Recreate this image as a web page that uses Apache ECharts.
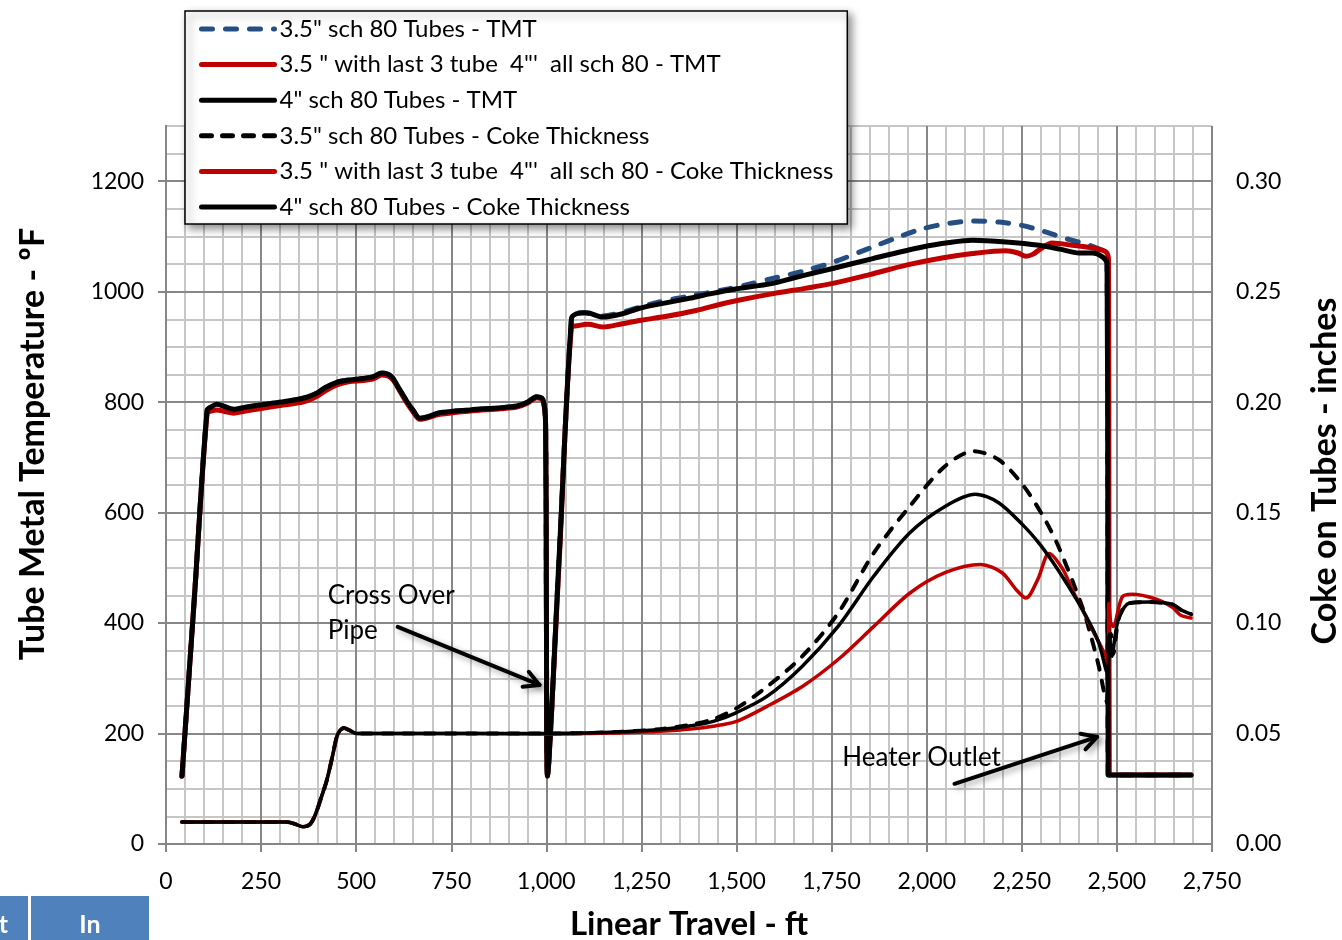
<!DOCTYPE html>
<html><head><meta charset="utf-8">
<script src="https://cdn.jsdelivr.net/npm/echarts@6/dist/echarts.min.js"></script>
<style>html,body{margin:0;padding:0;background:#fff}#c{width:1342px;height:940px}</style>
</head><body><div id="c"></div>
<script>
// ---------- data ----------
const seriesNames = [
  '3.5" sch 80 Tubes - TMT',
  '3.5 " with last 3 tube  4"\'  all sch 80 - TMT',
  '4" sch 80 Tubes - TMT',
  '3.5" sch 80 Tubes - Coke Thickness',
  '3.5 " with last 3 tube  4"\'  all sch 80 - Coke Thickness',
  '4" sch 80 Tubes - Coke Thickness'
];
const xTicks = [0,250,500,750,1000,1250,1500,1750,2000,2250,2500,2750];
const leftTicks = [0,200,400,600,800,1000,1200];
const rightTicks = [0,0.05,0.10,0.15,0.20,0.25,0.30];

// Tube metal temperature (deg F) vs linear travel (ft)
const tmt35 = [[42,123],[75,450],[108,785],[120,792],[133,796],[155,792],[177,787],[210,791],[247,795],[300,800],[360,807],[396,816],[420,827],[449,836],[480,840],[518,843],[545,846],[567,853],[585,850],[597,843],[615,822],[632,803],[650,785],[667,771],[690,774],[720,781],[800,786],[880,790],[922,793],[950,800],[975,810],[991,805],[998,760],[1000,450],[1003,123],[1035,540],[1066,952],[1079,960],[1100,962],[1114,961],[1148,956],[1200,963],[1245,972],[1300,982],[1376,992],[1464,1003],[1530,1013],[1595,1024],[1680,1038],[1753,1053],[1858,1081],[1930,1100],[1989,1114],[2060,1124],[2120,1128],[2191,1126],[2250,1120],[2304,1110],[2367,1096],[2419,1086],[2450,1078],[2466,1072],[2474,1055],[2476,600],[2477,125],[2600,125],[2695,125]];
const tmt35w4 = [[42,123],[75,450],[108,780],[120,784],[133,786],[155,783],[177,780],[210,784],[247,788],[300,794],[360,800],[396,810],[420,821],[449,831],[480,837],[518,839],[545,842],[567,849],[585,847],[597,840],[615,820],[632,800],[650,782],[667,769],[690,772],[720,778],[800,784],[880,788],[922,791],[950,798],[975,808],[991,803],[998,760],[1000,450],[1003,123],[1035,530],[1066,935],[1087,939],[1110,941],[1148,936],[1200,942],[1245,948],[1320,956],[1394,966],[1450,976],[1508,985],[1600,997],[1680,1006],[1753,1015],[1850,1031],[1946,1048],[2040,1061],[2120,1069],[2208,1074],[2240,1070],[2261,1064],[2280,1068],[2296,1076],[2330,1088],[2383,1084],[2445,1078],[2471,1072],[2478,1057],[2479,600],[2480,125],[2600,125],[2695,125]];
const tmt4 = [[42,123],[75,450],[108,785],[120,792],[133,796],[155,792],[177,787],[210,791],[247,795],[300,800],[360,807],[396,816],[420,827],[449,836],[480,840],[518,843],[545,846],[567,853],[585,850],[597,843],[615,822],[632,803],[650,785],[667,771],[690,774],[720,781],[800,786],[880,790],[922,793],[950,800],[975,810],[991,805],[998,760],[1000,450],[1003,123],[1035,540],[1066,952],[1079,960],[1100,962],[1114,961],[1148,954],[1200,960],[1245,970],[1300,978],[1376,988],[1430,996],[1490,1004],[1595,1015],[1680,1030],[1753,1042],[1858,1060],[1989,1081],[2060,1089],[2120,1093],[2208,1090],[2296,1084],[2350,1077],[2401,1070],[2435,1070],[2462,1063],[2474,1051],[2476,600],[2477,125],[2600,125],[2695,125]];

// Coke thickness (inches) vs linear travel (ft)
const coke35 = [[42,0.0100],[150,0.0100],[250,0.0100],[318,0.0100],[340,0.0090],[360,0.0078],[378,0.0088],[392,0.0130],[408,0.0210],[423,0.0290],[438,0.0400],[449,0.0485],[458,0.0515],[468,0.0525],[482,0.0515],[501,0.0500],[600,0.0500],[800,0.0500],[1000,0.0500],[1100,0.0502],[1200,0.0508],[1300,0.0520],[1380,0.0540],[1439,0.0565],[1500,0.0615],[1580,0.0712],[1673,0.0850],[1767,0.1045],[1861,0.1318],[1955,0.1528],[2048,0.1710],[2123,0.1778],[2189,0.1740],[2255,0.1620],[2311,0.1468],[2348,0.1340],[2409,0.1073],[2432,0.0940],[2453,0.0800],[2466,0.0690],[2474,0.0640],[2478,0.0900],[2484,0.0950],[2490,0.0860],[2506,0.1028],[2532,0.1090],[2585,0.1095],[2645,0.1085],[2668,0.1060],[2695,0.1040]];
const coke35w4 = [[42,0.0100],[150,0.0100],[250,0.0100],[318,0.0100],[340,0.0090],[360,0.0078],[378,0.0088],[392,0.0130],[408,0.0210],[423,0.0290],[438,0.0400],[449,0.0485],[458,0.0515],[468,0.0525],[482,0.0515],[501,0.0500],[600,0.0500],[800,0.0500],[1000,0.0498],[1100,0.0500],[1200,0.0503],[1300,0.0510],[1380,0.0520],[1439,0.0533],[1500,0.0555],[1580,0.0623],[1673,0.0713],[1767,0.0835],[1861,0.0985],[1955,0.1135],[2048,0.1228],[2142,0.1265],[2198,0.1228],[2236,0.1150],[2261,0.1113],[2292,0.1198],[2322,0.1315],[2358,0.1243],[2383,0.1150],[2405,0.1075],[2436,0.0968],[2471,0.0848],[2477,0.0800],[2479,0.1090],[2484,0.1000],[2490,0.0985],[2514,0.1118],[2540,0.1130],[2600,0.1110],[2645,0.1073],[2668,0.1035],[2695,0.1023]];
const coke4 = [[42,0.0100],[150,0.0100],[250,0.0100],[318,0.0100],[340,0.0090],[360,0.0078],[378,0.0088],[392,0.0130],[408,0.0210],[423,0.0290],[438,0.0400],[449,0.0485],[458,0.0515],[468,0.0525],[482,0.0515],[501,0.0500],[600,0.0500],[800,0.0500],[1000,0.0500],[1100,0.0502],[1200,0.0508],[1300,0.0518],[1380,0.0535],[1439,0.0555],[1500,0.0595],[1580,0.0668],[1673,0.0805],[1767,0.0985],[1861,0.1213],[1955,0.1408],[2048,0.1528],[2128,0.1583],[2189,0.1545],[2255,0.1440],[2296,0.1360],[2330,0.1280],[2366,0.1185],[2405,0.1075],[2430,0.0995],[2453,0.0908],[2475,0.0773],[2480,0.0950],[2487,0.0850],[2496,0.0950],[2506,0.1028],[2532,0.1090],[2585,0.1095],[2645,0.1085],[2668,0.1060],[2695,0.1040]];

// annotations in data units (ft, deg F)
const crossOverText = [425, 481];
const heaterText = [1778, 156];
const arrowCross = [[609, 393], [982, 288]];
const arrowOutlet = [[2073, 109], [2448, 194]];

// ---------- chart ----------
const FONT = 'Lato';
const MAJOR = '#878787', MINOR = '#c6c6c6', AXIS = '#868686';
const fmtThousands = v => String(v).replace(/\B(?=(\d{3})+(?!\d))/g, ',');
const hiddenParts = {axisLine: {show: false}, axisTick: {show: false}, axisLabel: {show: false}};

const chart = echarts.init(document.getElementById('c'), null, {renderer: 'canvas'});

function mk(name, data, color, width, dash, yIdx) {
  return {
    name, type: 'line', data, yAxisIndex: yIdx, symbol: 'none', smooth: 0.3, z: 3,
    lineStyle: {color, width, type: dash || 'solid', cap: 'round', join: 'round'},
    itemStyle: {color}, emphasis: {disabled: true}
  };
}

chart.setOption({
  animation: false,
  backgroundColor: '#fff',
  grid: {left: 166, top: 126, width: 1046, height: 718, containLabel: false, outerBoundsMode: 'none'},
  legend: {
    orient: 'vertical', left: 185, top: 11,
    itemWidth: 73, itemHeight: 14, itemGap: 9.6,
    padding: [5, 14, 4, 14],
    backgroundColor: '#fff', borderColor: '#000', borderWidth: 1.5, borderRadius: 0,
    shadowColor: 'rgba(0,0,0,0.45)', shadowBlur: 8, shadowOffsetX: 4, shadowOffsetY: 4,
    itemStyle: {opacity: 0},
    lineStyle: {width: 5},
    textStyle: {fontFamily: FONT, fontSize: 24, color: '#000', lineHeight: 26},
    data: seriesNames, selectedMode: false
  },
  xAxis: [
    {
      type: 'value', min: 0, max: 2750, interval: 50, z: 1,
      axisLine: {show: true, onZero: false, lineStyle: {color: AXIS, width: 2}},
      axisTick: {show: true, customValues: xTicks, length: 8, lineStyle: {color: AXIS, width: 2}},
      axisLabel: {customValues: xTicks, formatter: fmtThousands, fontFamily: FONT, fontSize: 23, color: '#000', margin: 26},
      splitLine: {show: true, lineStyle: {color: MAJOR, width: 2}},
      name: 'Linear Travel - ft', nameLocation: 'middle', nameGap: 64,
      nameTextStyle: {fontFamily: FONT, fontSize: 33, fontWeight: 'bold', color: '#000'}
    },
    Object.assign({
      type: 'value', min: 0, max: 2750, interval: 50, z: 0, position: 'bottom',
      splitLine: {show: true, lineStyle: {color: MINOR, width: 2}}
    }, hiddenParts)
  ],
  yAxis: [
    {
      type: 'value', min: 0, max: 1300, interval: 50, position: 'left', z: 1,
      axisLine: {show: true, lineStyle: {color: AXIS, width: 2}},
      axisTick: {show: true, customValues: leftTicks, length: 8, lineStyle: {color: AXIS, width: 2}},
      axisLabel: {customValues: leftTicks, formatter: v => String(v), fontFamily: FONT, fontSize: 23, color: '#000', margin: 22},
      splitLine: {show: true, lineStyle: {color: MAJOR, width: 2}}
    },
    {
      type: 'value', min: 0, max: 0.325, interval: 0.05, position: 'right', z: 1,
      axisLine: {show: true, lineStyle: {color: AXIS, width: 2}},
      axisTick: {show: true, customValues: rightTicks, length: 8, lineStyle: {color: AXIS, width: 2}},
      axisLabel: {customValues: rightTicks, formatter: v => v.toFixed(2), fontFamily: FONT, fontSize: 23, color: '#000', margin: 24},
      splitLine: {show: false}
    },
    Object.assign({
      type: 'value', min: 0, max: 1300, interval: 50, position: 'left', z: 0,
      splitLine: {show: true, lineStyle: {color: MINOR, width: 2}}
    }, hiddenParts)
  ],
  series: [
    mk(seriesNames[0], tmt35, '#254E83', 5, [11, 13], 0),
    mk(seriesNames[1], tmt35w4, '#C00000', 5, null, 0),
    mk(seriesNames[2], tmt4, '#000000', 5, null, 0),
    mk(seriesNames[3], coke35, '#000000', 4, [10, 11], 1),
    mk(seriesNames[4], coke35w4, '#C00000', 3.5, null, 1),
    mk(seriesNames[5], coke4, '#000000', 3.5, null, 1)
  ]
});

function px(p) { return chart.convertToPixel({xAxisIndex: 0, yAxisIndex: 0}, p); }
function arrow(a) {
  const s = px(a[0]), e = px(a[1]);
  const ang = Math.atan2(e[1] - s[1], e[0] - s[0]);
  const L = 17, spread = 0.5;
  const p1 = [e[0] - L * Math.cos(ang - spread), e[1] - L * Math.sin(ang - spread)];
  const p2 = [e[0] - L * Math.cos(ang + spread), e[1] - L * Math.sin(ang + spread)];
  const st = {stroke: '#000', lineWidth: 4, lineCap: 'round', lineJoin: 'round',
    shadowColor: 'rgba(0,0,0,0.35)', shadowBlur: 6, shadowOffsetX: 3, shadowOffsetY: 3};
  return [
    {type: 'line', shape: {x1: s[0], y1: s[1], x2: e[0], y2: e[1]}, style: st, z: 50},
    {type: 'polyline', shape: {points: [p1, e, p2]}, style: Object.assign({fill: null}, st), z: 50}
  ];
}
const ct = px(crossOverText), ht = px(heaterText);
chart.setOption({
  graphic: [
    {type: 'text', x: 33, y: 444, rotation: Math.PI / 2, z: 60,
     style: {text: 'Tube Metal Temperature - ºF', font: 'bold 34px ' + FONT, fill: '#000', textAlign: 'center', textVerticalAlign: 'middle'}},
    {type: 'text', x: 1325, y: 471, rotation: Math.PI / 2, z: 60,
     style: {text: 'Coke on Tubes - inches', font: 'bold 34px ' + FONT, fill: '#000', textAlign: 'center', textVerticalAlign: 'middle'}},
    {type: 'text', x: ct[0], y: ct[1], z: 60,
     style: {text: 'Cross Over\nPipe', font: '26px ' + FONT, fill: '#000', lineHeight: 35}},
    {type: 'text', x: ht[0], y: ht[1], z: 60,
     style: {text: 'Heater Outlet', font: '26px ' + FONT, fill: '#000', textVerticalAlign: 'middle'}},
    ...arrow(arrowCross), ...arrow(arrowOutlet),
    {type: 'rect', shape: {x: -5, y: 896, width: 33, height: 50}, style: {fill: '#4F81BD'}, z: 60},
    {type: 'rect', shape: {x: 31, y: 896, width: 118, height: 50}, style: {fill: '#4F81BD'}, z: 60},
    {type: 'text', x: 8, y: 925, z: 61, style: {text: 't', font: 'bold 25px ' + FONT, fill: '#fff', textAlign: 'right', textVerticalAlign: 'middle'}},
    {type: 'text', x: 90, y: 925, z: 61, style: {text: 'In', font: 'bold 25px ' + FONT, fill: '#fff', textAlign: 'center', textVerticalAlign: 'middle'}}
  ]
});
</script>
</body></html>
